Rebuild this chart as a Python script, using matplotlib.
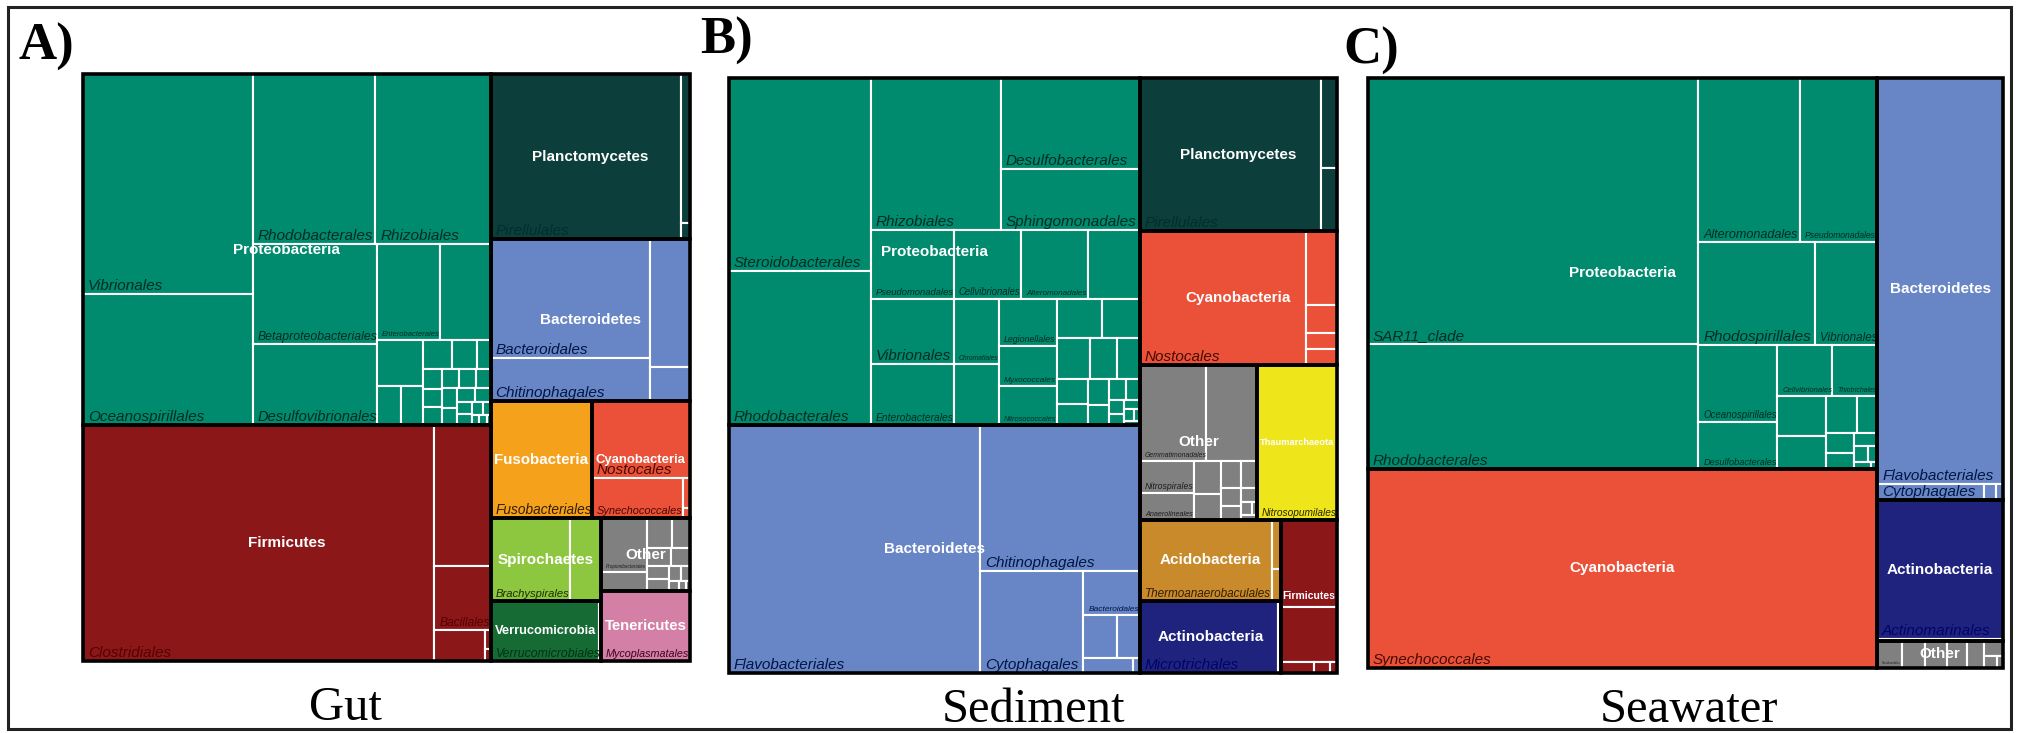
import colorsys

import numpy as np
import pandas as pd
import matplotlib
matplotlib.use("Agg")
import matplotlib.pyplot as plt
from matplotlib.patches import Rectangle
from matplotlib.colors import to_rgb
from matplotlib.textpath import TextPath
from matplotlib.font_manager import FontProperties

DPI = 100
FIG_W, FIG_H = 2017, 733

# ---- data: relative abundance (%) per order, grouped by phylum ----
gut_phylum = (["Proteobacteria"] * 31 + ["Firmicutes"] * 6 + ["Planctomycetes"] * 3
              + ["Bacteroidetes"] * 4 + ["Fusobacteria"] + ["Cyanobacteria"] * 4
              + ["Spirochaetes"] * 2 + ["Verrucomicrobia"] * 2 + ["Other"] * 13
              + ["Tenericutes"])
gut_order = ["Vibrionales", "Oceanospirillales", "Rhodobacterales", "Rhizobiales",
             "Betaproteobacteriales", "Desulfovibrionales", "Enterobacterales", "",
             "", "", "", "", "", "", "", "", "", "", "", "", "", "", "", "", "", "",
             "", "", "", "", "",
             "Clostridiales", "", "Bacillales", "", "", "",
             "Pirellulales", "", "",
             "Bacteroidales", "Chitinophagales", "", "",
             "Fusobacteriales",
             "Nostocales", "Synechococcales", "", "",
             "Brachyspirales", "",
             "Verrucomicrobiales", "",
             "Propionibacteriales", "", "", "", "", "", "", "", "", "", "", "", "",
             "Mycoplasmatales"]
gut_value = [10.46, 6.24, 5.83, 5.50, 3.47, 2.83, 1.71, 1.35,
             0.58, 0.26, 0.24, 0.23, 0.20, 0.11, 0.11, 0.10, 0.10, 0.09, 0.09, 0.08,
             0.08, 0.07, 0.07, 0.06, 0.05, 0.05, 0.04, 0.03, 0.02, 0.02, 0.01,
             23.2, 2.22, 1.01, 0.44, 0.03, 0.02,
             8.80, 0.38, 0.04,
             5.29, 1.94, 1.44, 0.38,
             3.32,
             2.12, 1.02, 0.06, 0.02,
             1.84, 0.73,
             1.82, 0.03,
             0.70, 0.25, 0.20, 0.15, 0.12, 0.10, 0.08, 0.07, 0.05, 0.04, 0.03, 0.02, 0.01,
             1.74]

sed_phylum = (["Proteobacteria"] * 33 + ["Bacteroidetes"] * 8 + ["Planctomycetes"] * 3
              + ["Cyanobacteria"] * 5 + ["Other"] * 14 + ["Thaumarchaeota"]
              + ["Acidobacteria"] * 3 + ["Actinobacteria"] * 2 + ["Firmicutes"] * 5)
sed_order = ["Steroidobacterales", "Rhodobacterales", "Rhizobiales", "Desulfobacterales",
             "Sphingomonadales", "Pseudomonadales", "Vibrionales", "Enterobacterales",
             "Cellvibrionales", "Alteromonadales", "", "Chromatiales", "",
             "Legionellales", "Myxococcales", "Nitrosococcales", "", "",
             "", "", "", "", "", "", "", "", "", "", "", "", "", "", "",
             "Flavobacteriales", "Chitinophagales", "Cytophagales", "Bacteroidales",
             "", "", "", "",
             "Pirellulales", "", "",
             "Nostocales", "", "", "", "",
             "Gemmatimonadales", "", "Nitrospirales", "Anaerolineales",
             "", "", "", "", "", "", "", "", "", "",
             "Nitrosopumilales",
             "Thermoanaerobaculales", "", "",
             "Microtrichales", "",
             "", "", "", "", ""]
sed_value = [7.58, 6.06, 5.46, 3.50, 2.34, 1.58, 1.49, 1.41, 1.28, 1.27, 0.99, 0.81, 0.77,
             0.76, 0.64, 0.62, 0.49, 0.41,
             0.38, 0.30, 0.26, 0.22, 0.18, 0.15, 0.12, 0.10, 0.08, 0.06, 0.05, 0.04,
             0.03, 0.02, 0.02,
             17.2, 6.44, 2.92, 0.69, 0.41, 0.27, 0.20, 0.03,
             7.66, 0.40, 0.28,
             6.15, 0.63, 0.23, 0.14, 0.13,
             1.78, 1.35, 0.48, 0.40, 0.24, 0.19, 0.15, 0.12, 0.10, 0.08, 0.06, 0.04,
             0.02, 0.02,
             3.44,
             2.96, 0.12, 0.08,
             2.76, 0.05,
             1.35, 0.85, 0.10, 0.05, 0.02]

sea_phylum = (["Proteobacteria"] * 21 + ["Cyanobacteria"] + ["Bacteroidetes"] * 4
              + ["Actinobacteria"] * 2 + ["Other"] * 8)
sea_order = ["SAR11_clade", "Rhodobacterales", "Alteromonadales", "Pseudomonadales",
             "Rhodospirillales", "Vibrionales", "Oceanospirillales", "Desulfobacterales",
             "Cellvibrionales", "Thiotrichales", "", "", "", "", "", "", "", "", "", "", "",
             "Synechococcales",
             "Flavobacteriales", "Cytophagales", "", "",
             "Actinomarinales", "",
             "Parvibaculales", "", "", "", "", "", "", ""]
sea_value = [23.5, 10.94, 4.45, 3.38, 3.21, 1.70, 1.62, 0.97, 0.74, 0.61, 0.53, 0.42,
             0.30, 0.20, 0.15, 0.12, 0.08, 0.06, 0.04, 0.03, 0.01,
             27.1,
             13.64, 0.45, 0.05, 0.03,
             4.70, 0.04,
             0.18, 0.17, 0.16, 0.15, 0.12, 0.08, 0.04, 0.02]

phylum_colors = {
    "Proteobacteria": "#008A6E", "Firmicutes": "#8C1719", "Planctomycetes": "#0C3F3C",
    "Bacteroidetes": "#6886C6", "Fusobacteria": "#F5A11C", "Cyanobacteria": "#EA5138",
    "Spirochaetes": "#8DC63F", "Verrucomicrobia": "#166A33", "Other": "#808080",
    "Tenericutes": "#D47FA6", "Thaumarchaeota": "#EEE51A", "Acidobacteria": "#C98A2C",
    "Actinobacteria": "#20237D",
}

SANS = "Liberation Sans"
SERIF = "Liberation Serif"
fp_phylum = FontProperties(family=SANS, weight="bold")
fp_order = FontProperties(family=SANS, style="italic")


def pivot_layout(vals, x, y, w, h):
    # pivot-by-size treemap; vals sorted descending, y grows downward
    n = len(vals)
    if n == 0:
        return []
    if n == 1:
        return [(x, y, w, h)]
    total = sum(vals)
    p = vals[0]
    best_k, best_r = 0, np.inf
    for k in range(n):
        s = p + sum(vals[1:1 + k])
        if w >= h:
            a, b = w * s / total, h * p / s
        else:
            a, b = h * s / total, w * p / s
        r = max(a / b, b / a)
        if r < best_r - 1e-9:
            best_r, best_k = r, k
    L2 = vals[1:1 + best_k]
    L3 = vals[1 + best_k:]
    s = p + sum(L2)
    if w >= h:
        cw, ph = w * s / total, h * p / s
        out = [(x, y, cw, ph)]
        out += pivot_layout(L2, x, y + ph, cw, h - ph)
        out += pivot_layout(L3, x + cw, y, w - cw, h)
    else:
        ch, pw = h * s / total, w * p / s
        out = [(x, y, pw, ch)]
        out += pivot_layout(L2, x + pw, y, w - pw, ch)
        out += pivot_layout(L3, x, y + ch, w, h - ch)
    return out


def text_px(s, fp, size):
    tp = TextPath((0, 0), s, size=size, prop=fp)
    return tp.get_extents().width * DPI / 72


def dark(c):
    # same hue, much darker and saturated (label colour for orders)
    r, g, b = to_rgb(c)
    k = (30 / 255) / (0.299 * r + 0.587 * g + 0.114 * b)
    h, l, s = colorsys.rgb_to_hls(r * k, g * k, b * k)
    if s > 0.05:
        s = 1.0
    return colorsys.hls_to_rgb(h, l, s)


def draw_treemap(ax, phyla, orders, values, W, H):
    df = pd.DataFrame({"phylum": phyla, "order": orders, "value": values})
    totals = df.groupby("phylum", sort=False)["value"].sum()
    totals = totals.sort_values(ascending=False, kind="stable")
    prects = pivot_layout(list(totals.values), 0, 0, W, H)
    labels = []
    for (name, _), (px, py, pw, ph) in zip(totals.items(), prects):
        col = phylum_colors[name]
        sub = df[df.phylum == name].sort_values("value", ascending=False, kind="stable")
        orects = pivot_layout(list(sub.value), px, py, pw, ph)
        clip = Rectangle((px, py), pw, ph, transform=ax.transData)
        for lab, (x, y, w, h) in zip(sub.order, orects):
            ax.add_patch(Rectangle((x, y), w, h, facecolor=col, edgecolor="white",
                                   linewidth=1.5, clip_on=False))
            if lab:
                fs = 11
                sc = min(1.0, (w - 6) / text_px(lab, fp_order, fs))
                if sc >= 0.15:
                    t = ax.text(x + 5, y + h - 4, lab, fontproperties=fp_order,
                                fontsize=fs * sc, color=dark(col), ha="left",
                                va="baseline", zorder=3)
                    t.set_clip_path(clip)
        labels.append((name, px, py, pw, ph))
    for name, px, py, pw, ph in labels:
        ax.add_patch(Rectangle((px, py), pw, ph, facecolor="none", edgecolor="black",
                               linewidth=2.6, clip_on=False, zorder=4))
    for name, px, py, pw, ph in labels:
        fs = 11
        sc = min(1.0, 0.92 * pw / text_px(name, fp_phylum, fs))
        ax.text(px + pw / 2, py + ph / 2, name, fontproperties=fp_phylum,
                fontsize=fs * sc, color="white", ha="center", va="center", zorder=5)


panels = [
    ("A)", "Gut", gut_phylum, gut_order, gut_value, (83, 74, 690, 661), (18, 60), (345, 720)),
    ("B)", "Sediment", sed_phylum, sed_order, sed_value, (729, 78, 1337, 673), (700, 54), (1033, 722)),
    ("C)", "Seawater", sea_phylum, sea_order, sea_value, (1368, 78, 2003, 668), (1343, 64), (1689, 722)),
]

fig = plt.figure(figsize=(FIG_W / DPI, FIG_H / DPI), dpi=DPI)
fig.patch.set_facecolor("white")

for letter, title, ph, od, va, (x0, y0, x1, y1), lpos, tpos in panels:
    W, H = x1 - x0, y1 - y0
    ax = fig.add_axes([x0 / FIG_W, 1 - y1 / FIG_H, W / FIG_W, H / FIG_H])
    ax.set_xlim(0, W)
    ax.set_ylim(H, 0)
    ax.axis("off")
    draw_treemap(ax, ph, od, va, W, H)
    fig.text(lpos[0] / FIG_W, 1 - lpos[1] / FIG_H, letter, family=SERIF,
             weight="bold", fontsize=38, ha="left", va="baseline")
    fig.text(tpos[0] / FIG_W, 1 - tpos[1] / FIG_H, title, family=SERIF,
             fontsize=35, ha="center", va="baseline")

fig.add_artist(Rectangle((8 / FIG_W, 1 - 729 / FIG_H), 2003 / FIG_W, 722 / FIG_H,
                         transform=fig.transFigure, facecolor="none",
                         edgecolor="#222222", linewidth=2.2))

fig.savefig("out.png", dpi=DPI)
